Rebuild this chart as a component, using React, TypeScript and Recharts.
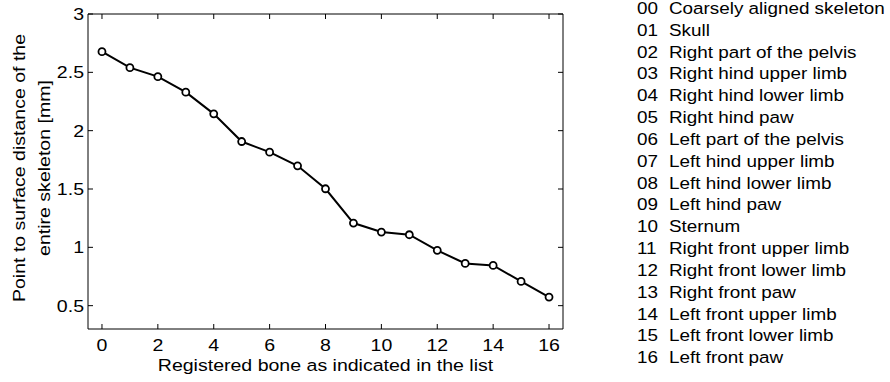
import React from 'react';
import { LineChart, Line, XAxis, YAxis, Label } from 'recharts';

const boneIds = [0, 1, 2, 3, 4, 5, 6, 7, 8, 9, 10, 11, 12, 13, 14, 15, 16];
const distances = [2.677, 2.54, 2.463, 2.33, 2.144, 1.907, 1.816, 1.699, 1.502, 1.208, 1.131, 1.108, 0.974, 0.862, 0.845, 0.708, 0.574];
const boneNames = [
  'Coarsely aligned skeleton',
  'Skull',
  'Right part of the pelvis',
  'Right hind upper limb',
  'Right hind lower limb',
  'Right hind paw',
  'Left part of the pelvis',
  'Left hind upper limb',
  'Left hind lower limb',
  'Left hind paw',
  'Sternum',
  'Right front upper limb',
  'Right front lower limb',
  'Right front paw',
  'Left front upper limb',
  'Left front lower limb',
  'Left front paw',
];
const xTicks = [0, 2, 4, 6, 8, 10, 12, 14, 16];
const yTicks = [0.5, 1, 1.5, 2, 2.5, 3];
const xDomain = [-0.5, 16.5];
const yDomain = [0.3, 3];
const xLabel = 'Registered bone as indicated in the list';
const yLabelLines = ['Point to surface distance of the', 'entire skeleton [mm]'];

const FONT = "'Liberation Sans', Arial, Helvetica, sans-serif";
const FS = 17;
const SX_AXIS = 1.15;
const SX_LEGEND = 1.11;

const data = boneIds.map((id, i) => ({ bone: id, dist: distances[i] }));

const StretchText = ({ x, y, anchor, sx, rotate = 0, children }: any) => (
  <g transform={`translate(${x},${y}) rotate(${rotate}) scale(${sx},1)`}>
    <text x={0} y={0} textAnchor={anchor} fill="#000" fontSize={FS} fontFamily={FONT}>
      {children}
    </text>
  </g>
);

const BottomTick = (props: any) => {
  const { x, y, payload } = props;
  return <StretchText x={x} y={y + 27} anchor="middle" sx={SX_AXIS}>{String(payload.value)}</StretchText>;
};

const LeftTick = (props: any) => {
  const { x, y, payload } = props;
  return <StretchText x={x} y={y + 6} anchor="end" sx={SX_AXIS}>{String(payload.value)}</StretchText>;
};

const EmptyTick = () => <g />;

export default function App() {
  return (
    <div style={{ position: 'absolute', left: 0, top: 0, width: 890, height: 382, background: '#fff' }}>
      <LineChart width={890} height={382} data={data} margin={{ top: 13, right: 326, bottom: 0, left: 0 }}>
        <XAxis
          dataKey="bone"
          type="number"
          domain={xDomain}
          ticks={xTicks}
          allowDataOverflow
          height={53}
          tickSize={-5}
          tickMargin={0}
          tick={<BottomTick />}
          axisLine={{ stroke: '#000', strokeWidth: 1 }}
          tickLine={{ stroke: '#000', strokeWidth: 1 }}
        >
          <Label
            content={(props: any) => {
              const vb = props.viewBox || { x: 88, y: 329, width: 475 };
              return (
                <StretchText x={vb.x + vb.width / 2} y={vb.y + 42} anchor="middle" sx={SX_AXIS}>
                  {xLabel}
                </StretchText>
              );
            }}
          />
        </XAxis>
        <XAxis
          xAxisId="top"
          orientation="top"
          dataKey="bone"
          type="number"
          domain={xDomain}
          ticks={xTicks}
          allowDataOverflow
          height={1}
          tickSize={-5}
          tickMargin={0}
          tick={<EmptyTick />}
          axisLine={{ stroke: '#000', strokeWidth: 1 }}
          tickLine={{ stroke: '#000', strokeWidth: 1 }}
        />
        <YAxis
          type="number"
          domain={yDomain}
          ticks={yTicks}
          allowDataOverflow
          width={88}
          tickSize={-5}
          tickMargin={9}
          tick={<LeftTick />}
          axisLine={{ stroke: '#000', strokeWidth: 1 }}
          tickLine={{ stroke: '#000', strokeWidth: 1 }}
        >
          <Label
            content={() => {
              const cy = 168;
              const xs = [24.5, 49.5];
              return (
                <g>
                  {yLabelLines.map((line, i) => (
                    <StretchText key={i} x={xs[i]} y={cy} anchor="middle" sx={SX_AXIS} rotate={-90}>
                      {line}
                    </StretchText>
                  ))}
                </g>
              );
            }}
          />
        </YAxis>
        <YAxis
          yAxisId="right"
          orientation="right"
          type="number"
          domain={yDomain}
          ticks={yTicks}
          allowDataOverflow
          width={1}
          tickSize={-5}
          tickMargin={0}
          tick={<EmptyTick />}
          axisLine={{ stroke: '#000', strokeWidth: 1 }}
          tickLine={{ stroke: '#000', strokeWidth: 1 }}
        />
        <Line
          xAxisId="top"
          yAxisId="right"
          type="linear"
          dataKey="dist"
          stroke="none"
          strokeWidth={0}
          dot={false}
          activeDot={false}
          legendType="none"
          isAnimationActive={false}
        />
        <Line
          type="linear"
          dataKey="dist"
          stroke="#000"
          strokeWidth={2}
          dot={{ r: 3.5, stroke: '#000', strokeWidth: 1.8, fill: '#fff' }}
          activeDot={false}
          isAnimationActive={false}
        />
      </LineChart>
      <svg width={890} height={382} style={{ position: 'absolute', left: 0, top: 0, pointerEvents: 'none' }}>
        {boneNames.map((name, i) => {
          const y = 14 + i * 21.83;
          return (
            <g key={i}>
              <StretchText x={637} y={y} anchor="start" sx={SX_LEGEND}>{String(boneIds[i]).padStart(2, '0')}</StretchText>
              <StretchText x={669} y={y} anchor="start" sx={SX_LEGEND}>{name}</StretchText>
            </g>
          );
        })}
      </svg>
    </div>
  );
}
